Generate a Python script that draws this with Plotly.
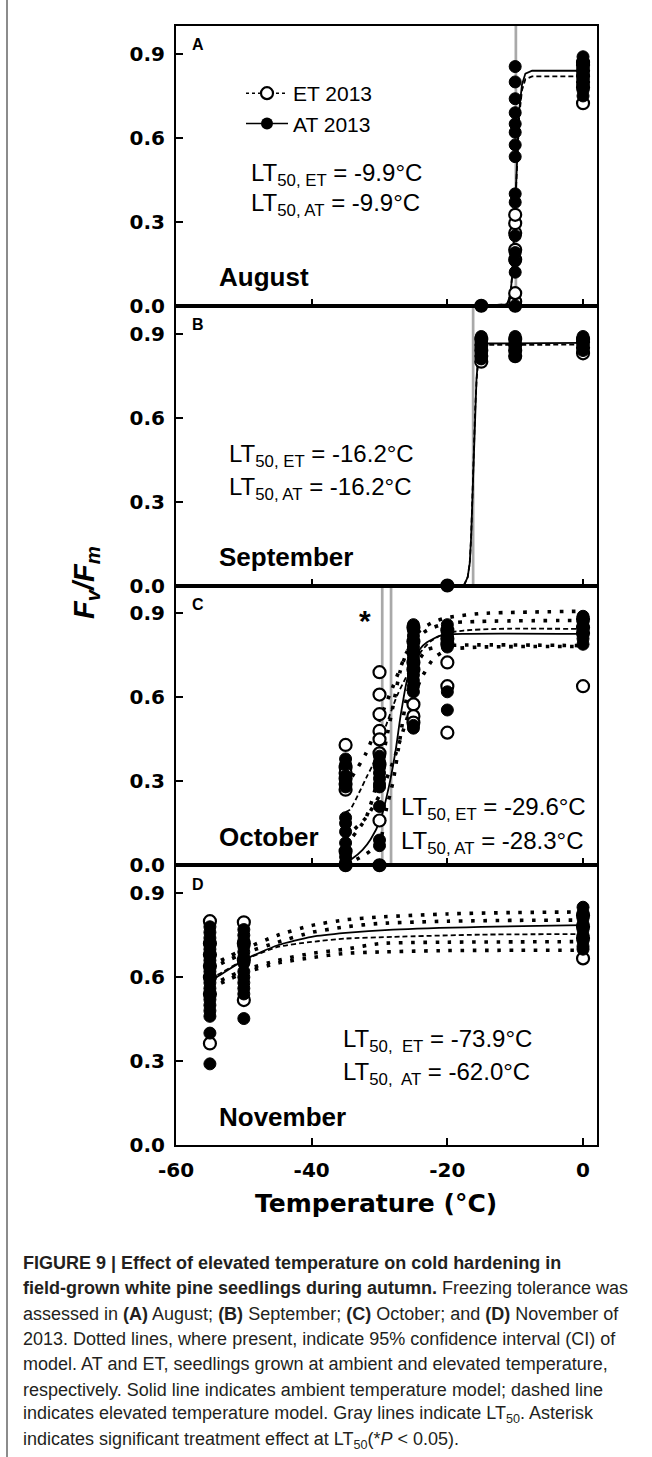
import plotly.graph_objects as go
from plotly.subplots import make_subplots

# ---------------- data ----------------
MONTHS = ["August", "September", "October", "November"]
PANEL_LETTERS = ["A", "B", "C", "D"]
LT50_ET = [-9.9, -16.2, -29.6, -73.9]
LT50_AT = [-9.9, -16.2, -28.3, -62.0]
LT50_ET_TEXT = ["-9.9", "-16.2", "-29.6", "-73.9"]
LT50_AT_TEXT = ["-9.9", "-16.2", "-28.3", "-62.0"]
X_TICKS = [-60, -40, -20, 0]
X_TICK_TEXT = ["-60", "-40", "-20", "0"]
Y_TICKS = [0.0, 0.3, 0.6, 0.9]
Y_TICK_TEXT = ["0.0", "0.3", "0.6", "0.9"]

# observations: temperature -> list of Fv/Fm values
AUG_ET = {-15: [0.0], -10: [0.0, 0.015, 0.045, 0.165, 0.20, 0.26, 0.295, 0.325],
          0: [0.724, 0.78, 0.80, 0.82, 0.84, 0.86, 0.87]}
AUG_AT = {-15: [0.0], -10: [0.0, 0.12, 0.16, 0.19, 0.25, 0.37, 0.40, 0.533, 0.575, 0.62,
                            0.65, 0.69, 0.74, 0.80, 0.855],
          0: [0.75, 0.77, 0.79, 0.81, 0.83, 0.85, 0.87, 0.89]}
SEP_ET = {-20: [0.0], -15: [0.80, 0.82, 0.84, 0.86, 0.88], -10: [0.82, 0.84, 0.86, 0.88],
          0: [0.83, 0.85, 0.87, 0.88]}
SEP_AT = {-20: [0.0], -15: [0.81, 0.83, 0.85, 0.87, 0.89], -10: [0.82, 0.84, 0.86, 0.88, 0.89],
          0: [0.84, 0.86, 0.88, 0.89]}
OCT_ET = {-35: [0.43, 0.35, 0.33, 0.31, 0.29, 0.27, 0.05, 0.0],
          -30: [0.69, 0.61, 0.54, 0.48, 0.45, 0.40, 0.36, 0.16, 0.0],
          -25: [0.85, 0.80, 0.76, 0.725, 0.70, 0.575, 0.533, 0.51],
          -20: [0.84, 0.81, 0.79, 0.725, 0.64, 0.474],
          0: [0.88, 0.85, 0.83, 0.64]}
OCT_AT = {-35: [0.38, 0.36, 0.32, 0.30, 0.28, 0.17, 0.15, 0.12, 0.08, 0.05, 0.03, 0.01, 0.0],
          -30: [0.39, 0.37, 0.35, 0.33, 0.31, 0.29, 0.28, 0.21, 0.09, 0.07, 0.0],
          -25: [0.86, 0.84, 0.82, 0.80, 0.78, 0.76, 0.74, 0.72, 0.70, 0.68, 0.66, 0.64, 0.62, 0.50, 0.49],
          -20: [0.86, 0.84, 0.82, 0.80, 0.78, 0.62, 0.555],
          0: [0.89, 0.87, 0.85, 0.83, 0.81, 0.79]}
NOV_ET = {-55: [0.80, 0.72, 0.68, 0.64, 0.60, 0.54, 0.363],
          -50: [0.796, 0.72, 0.66, 0.518],
          0: [0.82, 0.78, 0.74, 0.667]}
NOV_AT = {-55: [0.78, 0.76, 0.74, 0.72, 0.70, 0.68, 0.66, 0.64, 0.62, 0.60, 0.58, 0.56, 0.54,
                0.52, 0.50, 0.48, 0.46, 0.40, 0.29],
          -50: [0.77, 0.75, 0.73, 0.71, 0.69, 0.67, 0.65, 0.62, 0.60, 0.58, 0.56, 0.54, 0.452],
          0: [0.85, 0.83, 0.81, 0.79, 0.77, 0.75, 0.73, 0.71, 0.70]}

# model curves
AUG_AT_CURVE_T = [-15, -11.2, -10.7, -10.4, -10.1, -9.9, -9.7, -9.4, -9.0, -8.5, -7.5, 0]
AUG_AT_CURVE_Y = [0.0, 0.005, 0.04, 0.12, 0.30, 0.42, 0.55, 0.70, 0.79, 0.83, 0.84, 0.84]
AUG_ET_CURVE_T = [-15, -11.2, -10.7, -10.4, -10.1, -9.9, -9.7, -9.4, -9.0, -8.5, -7.5, 0]
AUG_ET_CURVE_Y = [0.0, 0.005, 0.04, 0.12, 0.29, 0.41, 0.53, 0.68, 0.77, 0.81, 0.82, 0.82]

SEP_AT_CURVE_T = [-20, -17.5, -17.0, -16.7, -16.5, -16.3, -16.1, -15.9, -15.7, -15.5, -15.2, -14.5, 0]
SEP_AT_CURVE_Y = [0.0, 0.003, 0.03, 0.08, 0.17, 0.33, 0.50, 0.64, 0.74, 0.80, 0.84, 0.865, 0.867]
SEP_ET_CURVE_T = [-20, -17.5, -17.0, -16.7, -16.5, -16.3, -16.1, -15.9, -15.7, -15.5, -15.2, -14.5, 0]
SEP_ET_CURVE_Y = [0.0, 0.003, 0.03, 0.08, 0.17, 0.33, 0.50, 0.63, 0.73, 0.79, 0.835, 0.86, 0.861]

OCT_AT_CURVE_T = [-35, -34.0, -32.5, -31.3, -29.85, -28.6, -27.6, -26.9, -25.9, -25.0, -24.0, -23.0, -21.0, -17.6, 0]
OCT_AT_CURVE_Y = [0.01, 0.024, 0.055, 0.093, 0.164, 0.283, 0.414, 0.533, 0.667, 0.726, 0.774, 0.797, 0.821, 0.827, 0.827]
OCT_ET_CURVE_T = [-35, -34.3, -33.0, -31.8, -30.6, -29.4, -27.4, -25.7, -24.0, -22.5, -20.5, -17.6, -12.7, 0]
OCT_ET_CURVE_Y = [0.19, 0.20, 0.26, 0.32, 0.379, 0.474, 0.607, 0.69, 0.76, 0.80, 0.827, 0.839, 0.845, 0.845]
OCT_ET_CI_T = [-35, -32, -30, -28, -26, -24, -22, -20, -15, 0]
OCT_ET_UP_Y = [0.28, 0.40, 0.52, 0.64, 0.76, 0.84, 0.87, 0.885, 0.90, 0.908]
OCT_ET_LO_Y = [0.10, 0.17, 0.25, 0.37, 0.52, 0.66, 0.74, 0.77, 0.78, 0.782]
OCT_AT_CI_T = [-35, -32, -30, -29, -28, -27, -26, -25, -23, -20, 0]
OCT_AT_UP_Y = [0.07, 0.17, 0.33, 0.45, 0.57, 0.69, 0.76, 0.80, 0.84, 0.865, 0.875]
OCT_AT_LO_Y = [0.0, 0.04, 0.08, 0.20, 0.30, 0.45, 0.60, 0.70, 0.77, 0.785, 0.785]

NOV_AT_CURVE_T = [-55, -54, -50, -45, -40, -35, -28, -15, 0]
NOV_AT_CURVE_Y = [0.59, 0.60, 0.661, 0.714, 0.744, 0.758, 0.770, 0.780, 0.786]
NOV_ET_CURVE_T = [-55, -54, -50, -45, -40, -35, -28, -15, 0]
NOV_ET_CURVE_Y = [0.60, 0.607, 0.661, 0.708, 0.726, 0.738, 0.744, 0.752, 0.754]
NOV_CI_T = [-55, -50, -45, -40, -35, -30, -20, -10, 0]
NOV_AT_UP_Y = [0.64, 0.70, 0.75, 0.785, 0.805, 0.815, 0.826, 0.831, 0.833]
NOV_ET_UP_Y = [0.63, 0.685, 0.725, 0.76, 0.78, 0.792, 0.80, 0.803, 0.804]
NOV_AT_LO_Y = [0.57, 0.625, 0.66, 0.685, 0.70, 0.72, 0.725, 0.726, 0.727]
NOV_ET_LO_Y = [0.56, 0.615, 0.65, 0.67, 0.685, 0.69, 0.695, 0.696, 0.696]

# ---------------- layout helpers ----------------
W, H = 652, 1457
L, R, T, B = 176, 597, 26, 1145
FONT = "Arial, Liberation Sans, sans-serif"
WIDE = "DejaVu Sans, Verdana, sans-serif"


def pxx(px):
    return (px - L) / (R - L)


def pxy(py):
    return (B - py) / (B - T)


def flat(d):
    xs, ys = [], []
    for t, vals in d.items():
        for v in vals:
            xs.append(t)
            ys.append(v)
    return xs, ys


fig = make_subplots(rows=4, cols=1, shared_xaxes=False, vertical_spacing=0)

obs_et = [AUG_ET, SEP_ET, OCT_ET, NOV_ET]
obs_at = [AUG_AT, SEP_AT, OCT_AT, NOV_AT]
cur_et = [(AUG_ET_CURVE_T, AUG_ET_CURVE_Y), (SEP_ET_CURVE_T, SEP_ET_CURVE_Y),
          (OCT_ET_CURVE_T, OCT_ET_CURVE_Y), (NOV_ET_CURVE_T, NOV_ET_CURVE_Y)]
cur_at = [(AUG_AT_CURVE_T, AUG_AT_CURVE_Y), (SEP_AT_CURVE_T, SEP_AT_CURVE_Y),
          (OCT_AT_CURVE_T, OCT_AT_CURVE_Y), (NOV_AT_CURVE_T, NOV_AT_CURVE_Y)]
cis = {3: [(OCT_ET_CI_T, OCT_ET_UP_Y), (OCT_ET_CI_T, OCT_ET_LO_Y),
           (OCT_AT_CI_T, OCT_AT_UP_Y), (OCT_AT_CI_T, OCT_AT_LO_Y)],
       4: [(NOV_CI_T, NOV_AT_UP_Y), (NOV_CI_T, NOV_ET_UP_Y),
           (NOV_CI_T, NOV_AT_LO_Y), (NOV_CI_T, NOV_ET_LO_Y)]}

GRAY = "#a9a9a9"
for i in range(4):
    row = i + 1
    # confidence intervals
    for ct, cy in cis.get(row, []):
        fig.add_trace(go.Scatter(x=ct, y=cy, mode="lines", showlegend=False, hoverinfo="skip",
                                 line=dict(color="black", width=3.6, dash="3.6px,8.6px",
                                           shape="spline", smoothing=0.6)),
                      row=row, col=1)
    # model curves
    shape = "linear" if i < 2 else "spline"
    fig.add_trace(go.Scatter(x=cur_et[i][0], y=cur_et[i][1], mode="lines", showlegend=False,
                             line=dict(color="black", width=1.8, dash="5px,3px", shape=shape, smoothing=0.6)),
                  row=row, col=1)
    fig.add_trace(go.Scatter(x=cur_at[i][0], y=cur_at[i][1], mode="lines", showlegend=False,
                             line=dict(color="black", width=1.8, shape=shape, smoothing=0.6)),
                  row=row, col=1)
    # observations
    ex, ey = flat(obs_et[i])
    fig.add_trace(go.Scatter(x=ex, y=ey, mode="markers", showlegend=False, cliponaxis=False,
                             marker=dict(size=12, color="white", line=dict(color="black", width=2.2))),
                  row=row, col=1)
    ax, ay = flat(obs_at[i])
    fig.add_trace(go.Scatter(x=ax, y=ay, mode="markers", showlegend=False, cliponaxis=False,
                             marker=dict(size=12, color="black", line=dict(color="black", width=1))),
                  row=row, col=1)
    # LT50 gray lines
    for lt in sorted(set([LT50_ET[i], LT50_AT[i]])):
        if lt >= -60:
            fig.add_vline(x=lt, line=dict(color=GRAY, width=2.7), layer="below",
                          exclude_empty_subplots=False, row=row, col=1)

# legend entries
fig.add_trace(go.Scatter(x=[None], y=[None], mode="lines+markers", name="ET 2013",
                         line=dict(color="black", width=1.5, dash="3px,3px"),
                         marker=dict(size=12, color="white", line=dict(color="black", width=2.2))),
              row=1, col=1)
fig.add_trace(go.Scatter(x=[None], y=[None], mode="lines+markers", name="AT 2013",
                         line=dict(color="black", width=1.5),
                         marker=dict(size=12, color="black")),
              row=1, col=1)

axis_common = dict(showline=True, linecolor="black", linewidth=2, mirror=True, ticks="inside",
                   ticklen=7, tickwidth=2, tickcolor="black", showgrid=False, zeroline=False)
for i in range(4):
    row = i + 1
    fig.update_xaxes(range=[-60, 2.06], tickvals=X_TICKS, ticktext=X_TICK_TEXT, showticklabels=(row == 4),
                     tickfont=dict(family=WIDE, size=20, color="black", weight="bold"),
                     ticklabelstandoff=6, row=row, col=1, **axis_common)
    fig.update_yaxes(range=[0, 1.0], tickvals=Y_TICKS, ticktext=Y_TICK_TEXT,
                     tickfont=dict(family=WIDE, size=20, color="black", weight="bold"),
                     ticklabelstandoff=5, row=row, col=1, **axis_common)

annotations = []
panel_top = [26, 306, 586, 866]
lt_pos = [(249, 174, 205), (227, 455, 488), (399, 808, 842), (341, 1040, 1073)]
for i in range(4):
    top = panel_top[i]
    annotations.append(dict(x=pxx(190), y=pxy(top + 18), xref="paper", yref="paper", xanchor="left",
                            yanchor="middle", showarrow=False, text="<b>%s</b>" % PANEL_LETTERS[i],
                            font=dict(family=FONT, size=16, color="black")))
    annotations.append(dict(x=pxx(217), y=pxy(top + 251), xref="paper", yref="paper", xanchor="left",
                            yanchor="middle", showarrow=False, text="<b>%s</b>" % MONTHS[i],
                            font=dict(family=FONT, size=26, color="black")))
    sep = "\u00a0" if i == 3 else ""
    lx, y1, y2 = lt_pos[i]
    annotations.append(dict(x=pxx(lx), y=pxy(y1), xref="paper", yref="paper", xanchor="left",
                            yanchor="middle", showarrow=False,
                            text="LT<sub>50,%s ET</sub> = %s°C" % (sep, LT50_ET_TEXT[i]),
                            font=dict(family=FONT, size=24, color="black")))
    annotations.append(dict(x=pxx(lx), y=pxy(y2), xref="paper", yref="paper", xanchor="left",
                            yanchor="middle", showarrow=False,
                            text="LT<sub>50,%s AT</sub> = %s°C" % (sep, LT50_AT_TEXT[i]),
                            font=dict(family=FONT, size=24, color="black")))

# asterisk
annotations.append(dict(x=pxx(365), y=pxy(620), xref="paper", yref="paper", xanchor="center",
                        yanchor="middle", showarrow=False, text="<b>*</b>",
                        font=dict(family=FONT, size=30, color="black")))
# axis titles
annotations.append(dict(x=pxx(376), y=pxy(1203), xref="paper", yref="paper", xanchor="center",
                        yanchor="middle", showarrow=False, text="<b>Temperature (°C)</b>",
                        font=dict(family=WIDE, size=25, color="black")))
annotations.append(dict(x=pxx(86), y=pxy(583), xref="paper", yref="paper", xanchor="center",
                        yanchor="middle", showarrow=False, textangle=-90,
                        text="<b><i>F<sub>v</sub>/F<sub>m</sub></i></b>",
                        font=dict(family=FONT, size=29, color="black")))

CAPTION = [
    "<b>FIGURE 9 | Effect of elevated temperature on cold hardening in</b>",
    "<b>field-grown white pine seedlings during autumn.</b> Freezing tolerance was",
    "assessed in <b>(A)</b> August; <b>(B)</b> September; <b>(C)</b> October; and <b>(D)</b> November of",
    "2013. Dotted lines, where present, indicate 95% confidence interval (CI) of",
    "model. AT and ET, seedlings grown at ambient and elevated temperature,",
    "respectively. Solid line indicates ambient temperature model; dashed line",
    "indicates elevated temperature model. Gray lines indicate LT<sub>50</sub>. Asterisk",
    "indicates significant treatment effect at LT<sub>50</sub>(*<i>P</i> &lt; 0.05).",
]
for k, line in enumerate(CAPTION):
    annotations.append(dict(x=pxx(21), y=pxy(1263 + 25.3 * k), xref="paper", yref="paper",
                            xanchor="left", yanchor="middle", showarrow=False, text=line,
                            font=dict(family=FONT, size=18, color="#231f20")))

fig.update_layout(
    width=W, height=H, margin=dict(l=L, r=W - R, t=T, b=H - B),
    paper_bgcolor="white", plot_bgcolor="white",
    annotations=annotations,
    showlegend=True,
    legend=dict(x=pxx(241), y=pxy(73), xanchor="left", yanchor="top", bgcolor="rgba(0,0,0,0)",
                font=dict(family=FONT, size=21, color="black"), itemwidth=42, tracegroupgap=0),
)
# left page border
fig.add_shape(type="line", xref="paper", yref="paper", x0=pxx(7), x1=pxx(7),
              y0=pxy(0), y1=pxy(H), line=dict(color="#8c8c8c", width=2))

fig.write_html("out.html")
